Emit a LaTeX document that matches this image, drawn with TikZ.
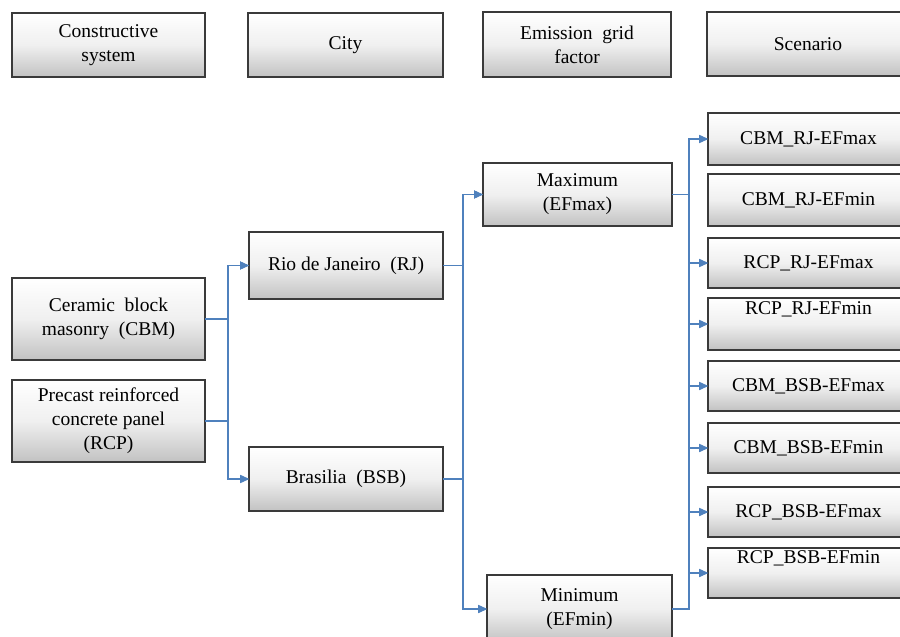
\documentclass[tikz,border=0pt]{standalone}
\usepackage{fontspec}
\setmainfont{Liberation Serif}
\usetikzlibrary{arrows.meta}
\definecolor{boxedge}{HTML}{3A3A3A}
\definecolor{linkblue}{HTML}{4F81BD}
\tikzset{
  box/.style={draw=boxedge, line width=1.1pt, top color=white, bottom color=black!24,
    middle color=white!94!black, inner sep=0pt, outer sep=0pt, anchor=north west,
    align=center, font=\fontsize{19.5}{24}\selectfont},
  link/.style={draw=linkblue, line width=1.4pt},
  arr/.style={link, -{Triangle[length=9pt,width=8pt]}}
}
\newcommand{\boxat}[6]{% name, x1, y1, x2, y2, text
  \node[box, minimum width={(#4-#2)*1pt}, minimum height={(#5-#3)*1pt}] (#1) at (#2,#3) {#6};}
\begin{document}
\begin{tikzpicture}[x=1pt,y=-1pt]
\useasboundingbox (0,0) rectangle (900,637);

% column headers
\boxat{hsys}{12}{13}{205}{77}{Constructive\\system}
\boxat{hcity}{248}{13}{443}{77}{City}
\boxat{hgrid}{483}{12}{671}{77}{Emission\ \ grid\\factor}
\boxat{hscen}{707}{12}{909}{76}{Scenario}

% constructive systems
\boxat{cbm}{12}{278}{205}{360}{Ceramic\ \ block\\masonry\ \ (CBM)}
\boxat{rcp}{12}{380}{205}{462}{Precast reinforced\\concrete panel\\(RCP)}

% cities
\boxat{rj}{249}{232}{443}{299}{Rio\ de Janeiro\ \ (RJ)}
\boxat{bsb}{249}{447}{443}{511}{Brasilia\ \ (BSB)}

% grid factors
\boxat{efmax}{483}{163}{672}{226}{Maximum\\(EFmax)}
\boxat{efmin}{487}{575}{672}{643}{Minimum\\(EFmin)}

% scenarios
\boxat{s1}{708}{113}{909}{165}{CBM\_RJ-EFmax}
\boxat{s2}{708}{174}{909}{226}{CBM\_RJ-EFmin}
\boxat{s3}{708}{238}{909}{288}{RCP\_RJ-EFmax}
\boxat{s4}{708}{298}{909}{350}{RCP\_RJ-EFmin\\\strut}
\boxat{s5}{708}{361}{909}{411}{CBM\_BSB-EFmax}
\boxat{s6}{708}{423}{909}{473}{CBM\_BSB-EFmin}
\boxat{s7}{708}{487}{909}{537}{RCP\_BSB-EFmax}
\boxat{s8}{708}{548}{909}{598}{RCP\_BSB-EFmin\\\strut}

% systems -> cities
\foreach \src in {cbm,rcp}
  \foreach \dst in {rj,bsb}
    \draw[arr] (\src.east) -- ++(23,0) |- (\dst.west);

% cities -> grid factors
\foreach \src in {rj,bsb}
  \foreach \dst in {efmax,efmin}
    \draw[arr] (\src.east) -- ++(20,0) |- (\dst.west);

% grid factors -> scenarios
\foreach \src in {efmax,efmin}
  \foreach \dst in {s1,s3,s4,s5,s6,s7,s8}
    \draw[arr] (\src.east) -- ++(17,0) |- (\dst.west);
\end{tikzpicture}
\end{document}
